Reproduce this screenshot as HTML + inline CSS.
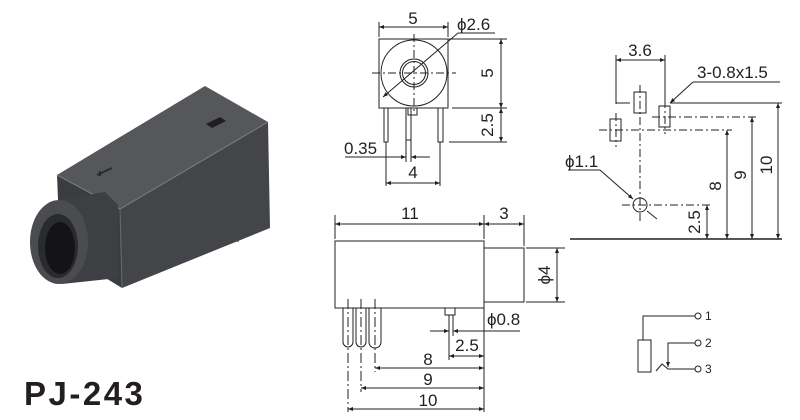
<!DOCTYPE html>
<html><head><meta charset="utf-8"><style>
html,body{margin:0;padding:0;background:#fff;}
svg{display:block;}
text{font-family:"Liberation Sans",Arial,sans-serif;fill:#231f20;}
</style></head><body>
<svg width="800" height="420" viewBox="0 0 800 420" xmlns="http://www.w3.org/2000/svg">
<defs>
<marker id="a" viewBox="0 0 10 10" refX="10" refY="5" markerWidth="8" markerHeight="5" orient="auto-start-reverse" markerUnits="userSpaceOnUse"><path d="M0,1 L10,5 L0,9 z" fill="#231f20"/></marker>
<linearGradient id="pin" x1="0" x2="1"><stop offset="0" stop-color="#9a9a9a"/><stop offset=".5" stop-color="#f2f2f2"/><stop offset="1" stop-color="#8a8a8a"/></linearGradient>
</defs>
<!-- photo -->
<g>
<rect x="228" y="215" width="11" height="27" fill="url(#pin)"/>
<polygon points="57,175 120,209 122,288 60,250" fill="#3b3c40"/>
<polygon points="120,209 268,122 270,228 122,288" fill="#444549"/>
<polygon points="57,175 205,86 268,122 120,209" fill="#56575b"/>
<polyline points="57,175 120,209 268,122" fill="none" stroke="#7a7b80" stroke-width="1"/>
<line x1="120" y1="209" x2="122" y2="288" stroke="#6a6b70"/>
<polygon points="206,124 220,117 226,121 212,128" fill="#1e1e20"/>
<path d="M97,175 L112,168 M100,176 L100,171" stroke="#2c2c2e" stroke-width="2" fill="none"/>
<path d="M59,200 L105,192 L118,205 L118,278 L62,284 Z" fill="#3e3f43"/>
<ellipse cx="59" cy="242" rx="29" ry="42" fill="#4b4c50"/>
<ellipse cx="58" cy="246" rx="20" ry="32" fill="#2a2b2e"/>
<ellipse cx="60" cy="248" rx="15" ry="26" fill="#141416"/>
</g>
<text x="24" y="405" font-size="33" font-weight="bold" letter-spacing="2.5">PJ-243</text>

<g stroke="#231f20" stroke-width="1" fill="none">
<!-- top view -->
<rect x="379" y="39" width="69" height="69"/>
<circle cx="414" cy="73" r="33"/>
<circle cx="414" cy="73" r="14"/>
<circle cx="414" cy="73" r="11.5"/>
<line x1="372" y1="73" x2="456" y2="73" stroke-dasharray="8,3,2,3"/>
<line x1="414" y1="34" x2="414" y2="112" stroke-dasharray="8,3,2,3"/>
<rect x="384" y="108" width="4" height="34"/>
<rect x="406" y="108" width="5" height="32"/>
<rect x="408" y="108" width="9" height="7"/>
<rect x="438" y="108" width="5" height="34"/>
<line x1="379" y1="37" x2="379" y2="22"/><line x1="448" y1="37" x2="448" y2="22"/>
<line x1="379" y1="27" x2="448" y2="27" marker-start="url(#a)" marker-end="url(#a)"/>
<line x1="458" y1="33" x2="495" y2="33"/>
<line x1="458" y1="33" x2="383" y2="97" marker-end="url(#a)"/>
<line x1="448" y1="39" x2="507" y2="39"/><line x1="452" y1="108" x2="507" y2="108"/><line x1="449" y1="142" x2="507" y2="142"/>
<line x1="501" y1="39" x2="501" y2="108" marker-start="url(#a)" marker-end="url(#a)"/>
<line x1="501" y1="108" x2="501" y2="142" marker-start="url(#a)" marker-end="url(#a)"/>
<line x1="386" y1="142" x2="386" y2="186"/><line x1="440" y1="142" x2="440" y2="186"/>
<line x1="386" y1="183" x2="440" y2="183" marker-start="url(#a)" marker-end="url(#a)"/>
<line x1="345" y1="157" x2="406" y2="157" marker-end="url(#a)"/>
<line x1="430" y1="157" x2="411" y2="157" marker-end="url(#a)"/>
<line x1="406" y1="140" x2="406" y2="162"/><line x1="411" y1="140" x2="411" y2="162"/>

<!-- pad layout -->
<line x1="616" y1="55" x2="616" y2="104"/><line x1="665" y1="55" x2="665" y2="106"/>
<line x1="616" y1="60" x2="665" y2="60" marker-start="url(#a)" marker-end="url(#a)"/>
<line x1="616" y1="103" x2="630" y2="103"/>
<rect x="634" y="92" width="12" height="21"/>
<rect x="659" y="106" width="11" height="21"/>
<rect x="610" y="119" width="11" height="22"/>
<line x1="640" y1="85" x2="640" y2="222" stroke-dasharray="8,3,2,3"/>
<line x1="665" y1="100" x2="665" y2="134" stroke-dasharray="8,3,2,3"/>
<line x1="616" y1="113" x2="616" y2="147" stroke-dasharray="8,3,2,3"/>
<line x1="599" y1="130" x2="732" y2="130" stroke-dasharray="8,3,2,3"/>
<line x1="652" y1="117" x2="758" y2="117" stroke-dasharray="8,3,2,3"/>
<line x1="670" y1="103" x2="782" y2="103"/>
<circle cx="640" cy="205" r="7"/>
<line x1="622" y1="205" x2="712" y2="205" stroke-dasharray="8,3,2,3"/>
<line x1="693" y1="82" x2="780" y2="82"/>
<line x1="693" y1="82" x2="670" y2="103" marker-end="url(#a)"/>
<line x1="568" y1="170" x2="600" y2="170"/>
<line x1="600" y1="170" x2="633" y2="199" marker-end="url(#a)"/>
<line x1="647" y1="211" x2="657" y2="219"/>
<line x1="570" y1="239" x2="782" y2="239" stroke-width="1.5"/>
<line x1="727" y1="130" x2="727" y2="239" marker-start="url(#a)" marker-end="url(#a)"/>
<line x1="752" y1="117" x2="752" y2="239" marker-start="url(#a)" marker-end="url(#a)"/>
<line x1="778" y1="103" x2="778" y2="239" marker-start="url(#a)" marker-end="url(#a)"/>
<line x1="707" y1="205" x2="707" y2="239" marker-start="url(#a)" marker-end="url(#a)"/>

<!-- side view -->
<rect x="335" y="241" width="149" height="67"/>
<rect x="484" y="248" width="40" height="54"/>
<line x1="335" y1="239" x2="335" y2="215"/><line x1="484" y1="239" x2="484" y2="215"/><line x1="524" y1="246" x2="524" y2="215"/>
<line x1="335" y1="224" x2="484" y2="224" marker-start="url(#a)" marker-end="url(#a)"/>
<line x1="484" y1="224" x2="524" y2="224" marker-start="url(#a)" marker-end="url(#a)"/>
<line x1="526" y1="248" x2="565" y2="248"/><line x1="526" y1="302" x2="565" y2="302"/>
<line x1="557" y1="248" x2="557" y2="302" marker-start="url(#a)" marker-end="url(#a)"/>
<path d="M343,308 V342 a5,5 0 0 0 10,0 V308"/>
<path d="M356,308 V342 a5,5 0 0 0 10,0 V308"/>
<path d="M369,308 V342 a5,5 0 0 0 12,0 V308"/>
<line x1="348" y1="299" x2="348" y2="412" stroke-dasharray="10,3,2,3"/>
<line x1="361" y1="299" x2="361" y2="392" stroke-dasharray="10,3,2,3"/>
<line x1="375" y1="299" x2="375" y2="372" stroke-dasharray="10,3,2,3"/>
<rect x="445" y="308" width="10" height="7"/>
<line x1="449" y1="315" x2="449" y2="360"/><line x1="453" y1="315" x2="453" y2="336"/>
<line x1="484" y1="308" x2="484" y2="412"/>
<line x1="430" y1="331" x2="449" y2="331" marker-end="url(#a)"/>
<line x1="520" y1="331" x2="453" y2="331" marker-end="url(#a)"/>
<line x1="449" y1="356" x2="484" y2="356" marker-start="url(#a)" marker-end="url(#a)"/>
<line x1="375" y1="368" x2="484" y2="368" marker-start="url(#a)" marker-end="url(#a)"/>
<line x1="361" y1="388" x2="484" y2="388" marker-start="url(#a)" marker-end="url(#a)"/>
<line x1="348" y1="409" x2="484" y2="409" marker-start="url(#a)" marker-end="url(#a)"/>

<!-- schematic -->
<polyline points="643,340 643,316 695,316"/>
<circle cx="698" cy="316" r="3"/>
<rect x="638" y="340" width="13" height="32"/>
<polyline points="695,343 668,343 668,367" marker-end="url(#a)"/>
<circle cx="698" cy="343" r="3"/>
<polyline points="656,371 662,364 668,369 695,369"/>
<circle cx="698" cy="369" r="3"/>
</g>

<g font-size="17">
<text x="413" y="24" text-anchor="middle">5</text>
<text x="457" y="30">ϕ2.6</text>
<text x="344" y="154">0.35</text>
<text x="413" y="178" text-anchor="middle">4</text>
<text transform="translate(493,73) rotate(-90)" text-anchor="middle">5</text>
<text transform="translate(493,125) rotate(-90)" text-anchor="middle">2.5</text>
<text x="640" y="56" text-anchor="middle">3.6</text>
<text x="697" y="78">3-0.8x1.5</text>
<text x="565" y="167">ϕ1.1</text>
<text transform="translate(700,222) rotate(-90)" text-anchor="middle">2.5</text>
<text transform="translate(721,186) rotate(-90)" text-anchor="middle">8</text>
<text transform="translate(746,175) rotate(-90)" text-anchor="middle">9</text>
<text transform="translate(772,165) rotate(-90)" text-anchor="middle">10</text>
<text x="410" y="219" text-anchor="middle">11</text>
<text x="504" y="219" text-anchor="middle">3</text>
<text transform="translate(550,275) rotate(-90)" text-anchor="middle">ϕ4</text>
<text x="487" y="325">ϕ0.8</text>
<text x="467" y="351" text-anchor="middle">2.5</text>
<text x="428" y="365" text-anchor="middle">8</text>
<text x="428" y="385" text-anchor="middle">9</text>
<text x="428" y="406" text-anchor="middle">10</text>
</g>
<g font-size="12">
<text x="705" y="320">1</text>
<text x="705" y="347">2</text>
<text x="705" y="373">3</text>
</g>
</svg>
</body></html>
